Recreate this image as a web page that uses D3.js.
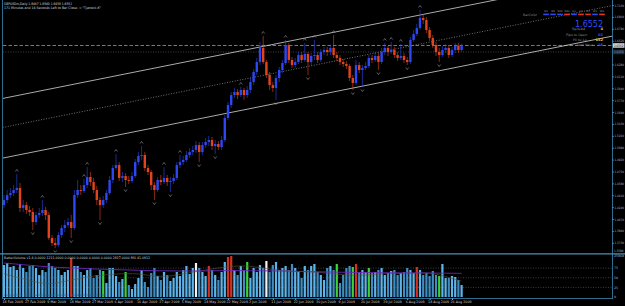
<!DOCTYPE html>
<html>
<head>
<meta charset="utf-8">
<script src="https://d3js.org/d3.v7.min.js"></script>
<style>
  body { margin: 0; background: #000; overflow: hidden; }
  svg { display: block; }
  text { font-family: "DejaVu Sans", sans-serif; }
</style>
</head>
<body>
<div id="grafico"></div>
<script>
// GBPUSDm diario, 18 Feb 2009 - 26 Aug 2009 (una vela por barra)
const opens = [
  1.4270,1.4342,1.4413,1.4442,1.4485,1.4514,1.4228,1.4270,1.4199,1.4170,
  1.4027,1.4127,1.4156,1.4199,1.4127,1.3799,1.3727,1.3698,1.3841,1.3942,
  1.3984,1.4027,1.3942,1.4413,1.4485,1.4471,1.4556,1.4671,1.4599,1.4485,
  1.4342,1.4270,1.4342,1.4442,1.4628,1.4800,1.4842,1.4657,1.4685,1.4628,
  1.4614,1.4685,1.4885,1.4971,1.4985,1.4800,1.4742,1.4556,1.4485,1.4628,
  1.4599,1.4657,1.4599,1.4614,1.4657,1.4842,1.4885,1.4914,1.4985,1.5028,
  1.5057,1.5128,1.5028,1.5128,1.5171,1.5200,1.5114,1.5143,1.5100,1.5200,
  1.5515,1.5700,1.5843,1.5886,1.5843,1.5915,1.5843,1.5915,1.6029,1.6172,
  1.6315,1.6516,1.6315,1.6129,1.5986,1.5944,1.6087,1.6201,1.6301,1.6558,
  1.6344,1.6272,1.6315,1.6415,1.6344,1.6430,1.6315,1.6401,1.6415,1.6344,
  1.6458,1.6487,1.6458,1.6516,1.6415,1.6373,1.6315,1.6287,1.6258,1.6087,
  1.6015,1.6272,1.6201,1.6230,1.6258,1.6373,1.6344,1.6401,1.6315,1.6458,
  1.6516,1.6458,1.6487,1.6415,1.6373,1.6401,1.6344,1.6315,1.6630,1.6716,
  1.6802,1.6945,1.6916,1.6773,1.6659,1.6558,1.6458,1.6415,1.6487,1.6516,
  1.6415,1.6487,1.6544,1.6487
];
const highs = [
  1.4413,1.4485,1.4514,1.4556,1.4714,1.4585,1.4342,1.4313,1.4256,1.4228,
  1.4170,1.4228,1.4342,1.4242,1.4170,1.3841,1.3799,1.3884,1.3984,1.4056,
  1.4085,1.4127,1.4485,1.4628,1.4556,1.4642,1.4814,1.4742,1.4657,1.4542,
  1.4385,1.4399,1.4485,1.4685,1.4842,1.5000,1.4885,1.4742,1.4728,1.4685,
  1.4742,1.4928,1.5028,1.5114,1.5028,1.4842,1.4771,1.4599,1.4671,1.4699,
  1.4814,1.4699,1.4671,1.4714,1.4885,1.4985,1.4971,1.5043,1.5086,1.5114,
  1.5186,1.5171,1.5171,1.5229,1.5257,1.5243,1.5200,1.5186,1.5257,1.5557,
  1.5743,1.5886,1.5944,1.5929,1.5958,1.5944,1.5972,1.6087,1.6215,1.6373,
  1.6601,1.6687,1.6344,1.6172,1.6029,1.6129,1.6244,1.6344,1.6630,1.6587,
  1.6387,1.6373,1.6458,1.6458,1.6587,1.6458,1.6444,1.6630,1.6458,1.6501,
  1.6530,1.6530,1.6558,1.6701,1.6458,1.6415,1.6358,1.6330,1.6287,1.6129,
  1.6344,1.6315,1.6272,1.6315,1.6415,1.6415,1.6458,1.6444,1.6516,1.6587,
  1.6544,1.6601,1.6530,1.6458,1.6573,1.6444,1.6387,1.6673,1.6773,1.6859,
  1.7059,1.7002,1.6959,1.6816,1.6701,1.6601,1.6516,1.6544,1.6573,1.6558,
  1.6530,1.6587,1.6587,1.6580
];
const lows = [
  1.4228,1.4299,1.4371,1.4399,1.4442,1.4170,1.4170,1.4142,1.4113,1.3913,
  1.3984,1.4085,1.4113,1.4056,1.3770,1.3684,1.3656,1.3670,1.3799,1.3884,
  1.3942,1.3799,1.3913,1.4371,1.4413,1.4442,1.4514,1.4542,1.4442,1.4270,
  1.4056,1.4228,1.4299,1.4413,1.4585,1.4771,1.4614,1.4599,1.4528,1.4571,
  1.4585,1.4657,1.4842,1.4914,1.4757,1.4699,1.4485,1.4342,1.4456,1.4556,
  1.4571,1.4542,1.4456,1.4571,1.4628,1.4800,1.4842,1.4885,1.4943,1.4985,
  1.5014,1.4885,1.4985,1.5086,1.5114,1.5057,1.5000,1.5057,1.5057,1.5171,
  1.5486,1.5658,1.5801,1.5786,1.5815,1.5772,1.5801,1.5872,1.5986,1.6129,
  1.6272,1.6287,1.6087,1.5915,1.5886,1.5772,1.6029,1.6158,1.6272,1.6301,
  1.6230,1.6230,1.6287,1.6301,1.6315,1.6129,1.6272,1.6344,1.6301,1.6315,
  1.6415,1.6401,1.6415,1.6373,1.6330,1.6272,1.6244,1.6215,1.6044,1.5915,
  1.5986,1.6158,1.5958,1.6201,1.6230,1.6301,1.6315,1.6201,1.6287,1.6415,
  1.6401,1.6430,1.6373,1.6330,1.6344,1.6301,1.6272,1.6287,1.6601,1.6687,
  1.6773,1.6859,1.6730,1.6616,1.6516,1.6401,1.6315,1.6387,1.6444,1.6373,
  1.6387,1.6444,1.6444,1.6459
];
const closes = [
  1.4342,1.4413,1.4442,1.4485,1.4514,1.4228,1.4270,1.4199,1.4170,1.4027,
  1.4127,1.4156,1.4199,1.4127,1.3799,1.3727,1.3698,1.3841,1.3942,1.3984,
  1.4027,1.3942,1.4413,1.4485,1.4471,1.4556,1.4671,1.4599,1.4485,1.4342,
  1.4270,1.4342,1.4442,1.4628,1.4800,1.4842,1.4657,1.4685,1.4628,1.4614,
  1.4685,1.4885,1.4971,1.4985,1.4800,1.4742,1.4556,1.4485,1.4628,1.4599,
  1.4657,1.4599,1.4614,1.4657,1.4842,1.4885,1.4914,1.4985,1.5028,1.5057,
  1.5128,1.5028,1.5128,1.5171,1.5200,1.5114,1.5143,1.5100,1.5200,1.5515,
  1.5700,1.5843,1.5886,1.5843,1.5915,1.5843,1.5915,1.6029,1.6172,1.6315,
  1.6516,1.6315,1.6129,1.5986,1.5944,1.6087,1.6201,1.6301,1.6558,1.6344,
  1.6272,1.6315,1.6415,1.6344,1.6430,1.6315,1.6401,1.6415,1.6344,1.6458,
  1.6487,1.6458,1.6516,1.6415,1.6373,1.6315,1.6287,1.6258,1.6087,1.6015,
  1.6272,1.6201,1.6230,1.6258,1.6373,1.6344,1.6401,1.6315,1.6458,1.6516,
  1.6458,1.6487,1.6415,1.6373,1.6401,1.6344,1.6315,1.6630,1.6716,1.6802,
  1.6945,1.6916,1.6773,1.6659,1.6558,1.6458,1.6415,1.6487,1.6516,1.6415,
  1.6487,1.6544,1.6487,1.6552
];

// BetterVolume
const volumes = [
  19786,21022,18549,19167,16694,20404,17931,15457,19167,19786,
  17931,13603,16694,15457,21022,19167,17931,16694,13603,15457,
  16694,24114,19167,19167,15457,13603,16694,17931,11748,13603,
  16694,16076,8656,17931,17931,12984,9274,11129,15457,7420,
  4946,8038,11748,16694,9274,6183,14839,17931,12984,10511,
  15457,13603,9893,11748,15457,12984,16694,19167,14221,17931,
  21022,17931,15457,12984,19167,16694,13603,10511,15457,21640,
  24732,25350,16694,13603,19167,16694,21640,11748,17931,15457,
  19786,17931,22259,15457,19786,21640,16694,17931,19167,16694,
  20404,17931,15457,11748,19167,16694,19167,20404,15457,13603,
  10511,17931,19167,16694,20404,8656,13603,17931,19167,18549,
  20404,15457,16694,15457,17931,14839,15457,16694,17931,13603,
  14839,16076,16694,13603,14839,15457,17931,16694,14839,18549,
  16694,13603,14839,12984,16076,13603,12984,20404,11748,11748,
  12984,12366,10511,7420
];
const volClimaxUp = [21, 64, 70, 71, 110, 129];
const volChurn = [31, 38, 76, 104, 109, 114, 136];
const volClimaxDown = [60, 82];
const volMax = 25968;

// media de volumen y RSI (cada 7 barras)
const lineBars = [0,7,14,21,28,35,42,49,56,63,70,77,84,91,98,105,112,119,126,133,140,143];
const volAverage = [21022,19800,18500,18000,17300,16900,16500,16200,16000,16100,16400,
                    16300,16100,15900,15600,15300,15100,15000,14900,14800,14700,14600];
const rsiValues = [60,45,30,45,55,60,62,50,60,70,80,82,70,66,65,58,55,62,60,66,48,41];
const levels = [75, 50, 25];

// fractales
const fractalUp = [4,12,25,26,35,43,50,55,74,81,88,94,97,103,119,121,124,130];
const fractalDown = [9,16,21,30,38,47,52,61,66,85,95,109,112,117,126,136];

// canal de regresion: precio en la barra 0 y en la barra 143
const channelBars = [0, 143];
const channelUpper = [1.5798, 1.7106];
const channelMiddle = [1.5383, 1.6691];
const channelLower = [1.4945, 1.6254];

const bidPrice = 1.6552;
const dayLow = 1.6459;
const priceTicks = [1.7130,1.6960,1.6790,1.6620,1.6280,1.6110,1.5940,1.5770,1.5600,1.5430,
                    1.5260,1.5090,1.4920,1.4750,1.4580,1.4410,1.4240,1.4070,1.3900,1.3730];

const dateBars = [0,7,14,21,28,35,42,49,56,63,70,77,84,91,98,105,112,119,126,133,140];
const dateLabels = ["18 Feb 2009","27 Feb 2009","9 Mar 2009","18 Mar 2009","27 Mar 2009",
  "6 Apr 2009","16 Apr 2009","27 Apr 2009","5 May 2009","14 May 2009","22 May 2009",
  "2 Jun 2009","11 Jun 2009","22 Jun 2009","30 Jun 2009","9 Jul 2009","20 Jul 2009",
  "29 Jul 2009","6 Aug 2009","18 Aug 2009","26 Aug 2009"];

const tfLabels = ["M1","M5","M15","M30","H1","H4","D1","W1","MN"];
const tfTrend = [1,1,1,-1,1,-1,-1,1,-1];

// Configuracion
const width = 625, height = 306;
const frame = "#2e6e8c";
const bull = "#2d48f2", bear = "#e4441c";
const axisText = "#a9bfcc";

const svg = d3.select("#grafico")
  .append("svg")
  .attr("width", width)
  .attr("height", height);

svg.append("rect").attr("width", width).attr("height", height).attr("fill", "#000");

// Escalas
const x = d3.scaleLinear().domain([0, 143]).range([4, 461.6]);
const y = d3.scaleLinear().domain([1.358, 1.7202]).range([253.3, 0]);
const yVol = d3.scaleLinear().domain([0, volMax]).range([297, 255]);
const yLvl = d3.scaleLinear().domain([0, 100]).range([297, 258.5]);

svg.append("clipPath").attr("id", "clipMain")
  .append("rect").attr("x", 3).attr("y", 0).attr("width", 609).attr("height", 252.5);
svg.append("clipPath").attr("id", "clipInd")
  .append("rect").attr("x", 3).attr("y", 255).attr("width", 609).attr("height", 43);

const main = svg.append("g").attr("clip-path", "url(#clipMain)");

// lineas horizontales (bid y minimo del dia)
main.append("line")
  .attr("x1", 3).attr("x2", 612)
  .attr("y1", y(bidPrice)).attr("y2", y(bidPrice))
  .attr("stroke", "#8c8c8c").attr("stroke-width", 0.9).attr("stroke-dasharray", "3.5,2");
main.append("line")
  .attr("x1", 3).attr("x2", 612)
  .attr("y1", y(dayLow)).attr("y2", y(dayLow))
  .attr("stroke", "#6a6a6a").attr("stroke-width", 0.6).attr("stroke-dasharray", "1,1.5");

// canal
[[channelUpper, null], [channelMiddle, "1,1.6"], [channelLower, null]].forEach(([vals, dash]) => {
  const p = d3.scaleLinear().domain(channelBars).range(vals);
  main.append("line")
    .attr("x1", x(-2)).attr("y1", y(p(-2)))
    .attr("x2", x(192)).attr("y2", y(p(192)))
    .attr("stroke", dash ? "#bdbdbd" : "#d6d6d6")
    .attr("stroke-width", dash ? 0.6 : 0.8)
    .attr("stroke-dasharray", dash);
});

// Velas
const velas = d3.range(closes.length).map(i => ({
  i: i, o: opens[i], h: highs[i], l: lows[i], c: closes[i]
}));

main.selectAll("line.mecha")
  .data(velas)
  .enter()
  .append("line")
  .attr("class", "mecha")
  .attr("x1", d => x(d.i)).attr("x2", d => x(d.i))
  .attr("y1", d => y(d.h)).attr("y2", d => y(d.l))
  .attr("stroke", d => d.c >= d.o ? bull : bear)
  .attr("stroke-width", 0.6);

main.selectAll("rect.cuerpo")
  .data(velas)
  .enter()
  .append("rect")
  .attr("class", "cuerpo")
  .attr("x", d => x(d.i) - 1.2)
  .attr("width", 2.4)
  .attr("y", d => y(Math.max(d.o, d.c)))
  .attr("height", d => Math.max(0.8, Math.abs(y(d.o) - y(d.c))))
  .attr("fill", d => d.c >= d.o ? bull : bear);

// fractales
main.selectAll("path.up")
  .data(fractalUp)
  .enter()
  .append("path")
  .attr("d", i => {
    const cx = x(i), cy = y(highs[i]) - 4;
    return `M${cx - 1.5},${cy + 1.5}L${cx},${cy - 0.5}L${cx + 1.5},${cy + 1.5}`;
  })
  .attr("fill", "none").attr("stroke", "#9a9a9a").attr("stroke-width", 0.6);

main.selectAll("path.down")
  .data(fractalDown)
  .enter()
  .append("path")
  .attr("d", i => {
    const cx = x(i), cy = y(lows[i]) + 4;
    return `M${cx - 1.5},${cy - 1.5}L${cx},${cy + 0.5}L${cx + 1.5},${cy - 1.5}`;
  })
  .attr("fill", "none").attr("stroke", "#9a9a9a").attr("stroke-width", 0.6);

// Textos superiores
svg.append("text").attr("x", 4).attr("y", 5.2)
  .attr("font-size", 3.4).attr("fill", "#d8d8d8")
  .attr("textLength", 68).attr("lengthAdjust", "spacingAndGlyphs")
  .text("GBPUSDm,Daily  1.6487 1.6580 1.6459 1.6552");
svg.append("text").attr("x", 4).attr("y", 9)
  .attr("font-size", 3.4).attr("fill", "#d8d8d8")
  .attr("textLength", 97).attr("lengthAdjust", "spacingAndGlyphs")
  .text("171 Minutes and 14 Seconds Left to Bar Close. =  \"Tjanock-K\"");

// Panel de informacion
svg.append("text").attr("x", 523).attr("y", 15.6)
  .attr("font-size", 3.2).attr("fill", "#8a8a8a")
  .attr("textLength", 14).attr("lengthAdjust", "spacingAndGlyphs").text("BarColor");
tfLabels.forEach((t, k) => {
  const cx = 546 + k * 7;
  svg.append("text").attr("x", cx).attr("y", 12).attr("text-anchor", "middle")
    .attr("font-size", 2.4).attr("fill", "#9a9a9a").text(t);
  svg.append("rect").attr("x", cx - 2.8).attr("y", 13.6).attr("width", 5.6).attr("height", 1.6)
    .attr("fill", tfTrend[k] > 0 ? "#2d48f2" : "#e4341c");
});
svg.append("text").attr("x", 575).attr("y", 26.5)
  .attr("font-size", 9).attr("fill", "#2d4cff")
  .attr("textLength", 28).attr("lengthAdjust", "spacingAndGlyphs").text("1.6552");

const infoRows = [
  { label: "Spread", x: 572, y: 30.4, len: 13, value: "4", color: "#ecd23c" },
  { label: "Pips to Open", x: 566, y: 35.6, len: 21, value: "65", color: "#2d48f2" },
  { label: "Hi to Lo", x: 573, y: 40.8, len: 14, value: "152", color: "#ecd23c" },
  { label: "Last Hour", x: 577, y: 46.2, len: 16, value: "18", color: "#2d48f2" }
];
infoRows.forEach(r => {
  svg.append("text").attr("x", r.x).attr("y", r.y)
    .attr("font-size", 3.3).attr("fill", "#8c8c8c")
    .attr("textLength", r.len).attr("lengthAdjust", "spacingAndGlyphs").text(r.label);
  svg.append("text").attr("x", 603).attr("y", r.y).attr("text-anchor", "end")
    .attr("font-size", 3.6).attr("font-weight", "bold").attr("fill", r.color).text(r.value);
});

// Eje de precios
svg.append("line").attr("x1", 612.5).attr("x2", 612.5).attr("y1", 0).attr("y2", 299)
  .attr("stroke", frame).attr("stroke-width", 1);
svg.append("line").attr("x1", 2.5).attr("x2", 2.5).attr("y1", 0).attr("y2", 299)
  .attr("stroke", frame).attr("stroke-width", 1);

const ejeY = svg.append("g")
  .attr("transform", "translate(612.5,0)")
  .call(d3.axisRight(y).tickValues(priceTicks).tickFormat(d3.format(".4f")).tickSize(1.2).tickPadding(0.8));
ejeY.select(".domain").remove();
ejeY.selectAll("line").attr("stroke", "#7aa8c0");
ejeY.selectAll("text")
  .attr("font-size", 3.2).attr("fill", axisText)
  .attr("textLength", 9.4).attr("lengthAdjust", "spacingAndGlyphs");

// etiquetas de bid y minimo
svg.append("rect").attr("x", 613).attr("y", y(bidPrice) - 2.3).attr("width", 11.5).attr("height", 4.6)
  .attr("fill", "#c7d3de");
svg.append("text").attr("x", 614).attr("y", y(bidPrice) + 1.2)
  .attr("font-size", 3.2).attr("fill", "#000")
  .attr("textLength", 9.4).attr("lengthAdjust", "spacingAndGlyphs").text(bidPrice.toFixed(4));
svg.append("rect").attr("x", 613).attr("y", y(dayLow) - 2.3).attr("width", 11.5).attr("height", 4.6)
  .attr("fill", "#1d2e3c");
svg.append("text").attr("x", 614).attr("y", y(dayLow) + 1.2)
  .attr("font-size", 3.2).attr("fill", "#7f94a4")
  .attr("textLength", 9.4).attr("lengthAdjust", "spacingAndGlyphs").text(dayLow.toFixed(4));
svg.append("text").attr("x", 614).attr("y", 252.3)
  .attr("font-size", 3.2).attr("fill", axisText)
  .attr("textLength", 9.4).attr("lengthAdjust", "spacingAndGlyphs").text(y.domain()[0].toFixed(4));

// Separador del indicador
svg.append("line").attr("x1", 0).attr("x2", width).attr("y1", 253.8).attr("y2", 253.8)
  .attr("stroke", "#4c8fb0").attr("stroke-width", 1.2);
svg.append("line").attr("x1", 2.5).attr("x2", 612.5).attr("y1", 298.5).attr("y2", 298.5)
  .attr("stroke", frame).attr("stroke-width", 1);

// Indicador de volumen
const ind = svg.append("g").attr("clip-path", "url(#clipInd)");

ind.selectAll("line.nivel")
  .data(levels)
  .enter()
  .append("line")
  .attr("x1", 3).attr("x2", 612)
  .attr("y1", d => yLvl(d)).attr("y2", d => yLvl(d))
  .attr("stroke", "#7a7a7a").attr("stroke-width", 0.5).attr("stroke-dasharray", "1,1.5");

function colorVol(i) {
  if (volClimaxUp.includes(i)) return "#d2321f";
  if (volChurn.includes(i)) return "#3fd03a";
  if (volClimaxDown.includes(i)) return "#f4f4f4";
  return closes[i] >= opens[i] ? "#5cb4ea" : "#3f8cc0";
}

ind.selectAll("rect.vol")
  .data(volumes)
  .enter()
  .append("rect")
  .attr("class", "vol")
  .attr("x", (d, i) => x(i) - 1.1)
  .attr("width", 2.2)
  .attr("y", d => yVol(d))
  .attr("height", d => yVol(0) - yVol(d))
  .attr("fill", (d, i) => colorVol(i));

ind.append("path")
  .datum(d3.range(lineBars.length))
  .attr("d", d3.line().x(k => x(lineBars[k])).y(k => yLvl(rsiValues[k])).curve(d3.curveBasis))
  .attr("fill", "none").attr("stroke", "#5e533c").attr("stroke-width", 0.6);

ind.append("path")
  .datum(d3.range(lineBars.length))
  .attr("d", d3.line().x(k => x(lineBars[k])).y(k => yVol(volAverage[k])).curve(d3.curveBasis))
  .attr("fill", "none").attr("stroke", "#6a28b8").attr("stroke-width", 0.9);

svg.append("text").attr("x", 4).attr("y", 259)
  .attr("font-size", 3.3).attr("fill", "#cfcfcf")
  .attr("textLength", 146).attr("lengthAdjust", "spacingAndGlyphs")
  .text("BetterVolume v1.4  0.0000  1211.0000  0.0000  0.0000  0.0000  0.0000  2817.0000   RSI  41.0912");
svg.append("text").attr("x", 4).attr("y", 296)
  .attr("font-size", 3.3).attr("fill", "#25588a")
  .attr("textLength", 102).attr("lengthAdjust", "spacingAndGlyphs")
  .text("Copyright \u00a9 2009, BetterVolume indicator - www.emini-watch.com");

// etiquetas del indicador
const indLabels = [[yVol(volMax) + 1.6, String(volMax)]]
  .concat(levels.map(l => [yLvl(l) + 1.2, String(l)]))
  .concat([[yLvl(0) + 0.6, "0"]]);
indLabels.forEach(([py, t]) => {
  svg.append("text").attr("x", 614).attr("y", py)
    .attr("font-size", 3.2).attr("fill", axisText).text(t);
});

// Eje de fechas
const ejeX = svg.append("g")
  .attr("transform", "translate(0,298.5)")
  .call(d3.axisBottom(x).tickValues(dateBars).tickFormat((d, k) => dateLabels[k]).tickSize(1.5).tickPadding(1));
ejeX.select(".domain").remove();
ejeX.selectAll("line").attr("stroke", "#7aa8c0");
ejeX.selectAll("text")
  .attr("text-anchor", "start").attr("dx", "-2")
  .attr("font-size", 3.3).attr("fill", "#cfcfcf");
</script>
</body>
</html>
